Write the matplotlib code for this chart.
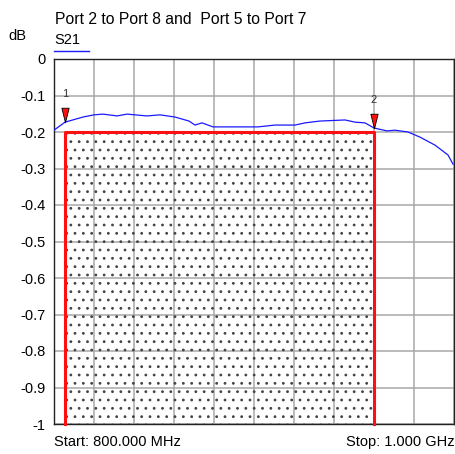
import matplotlib
matplotlib.use("Agg")
import matplotlib.pyplot as plt
import numpy as np

plt.rcParams['font.family'] = ['Liberation Sans', 'DejaVu Sans']
plt.rcParams['hatch.color'] = '#444444'
plt.rcParams['hatch.linewidth'] = 0.8

# S21 trace (MHz, dB)
freq = [800, 805.5, 814.5, 820, 824.5, 831.5, 836.5, 846.5, 853, 860.5, 867.5, 870.5,
        874, 879.5, 895.5, 902, 910.5, 920.5, 925.5, 933, 945.5, 950.5, 955.5, 960,
        966.5, 970.5, 977, 983, 990.5, 997, 999.5]
s21 = [-0.195, -0.173, -0.159, -0.153, -0.151, -0.156, -0.151, -0.156, -0.153, -0.159,
       -0.170, -0.181, -0.175, -0.186, -0.186, -0.186, -0.181, -0.181, -0.175, -0.170,
       -0.167, -0.173, -0.175, -0.189, -0.197, -0.195, -0.200, -0.214, -0.236, -0.263,
       -0.288]

# limit mask
mask_start = 805.5
mask_stop = 960
mask_level = -0.2

markers = [("1", 805.5), ("2", 960)]

yticks = [0, -0.1, -0.2, -0.3, -0.4, -0.5, -0.6, -0.7, -0.8, -0.9, -1]
ylabels = ["0", "-0.1", "-0.2", "-0.3", "-0.4", "-0.5", "-0.6", "-0.7", "-0.8", "-0.9", "-1"]

fig = plt.figure(figsize=(4.56, 4.54), dpi=100)
ax = fig.add_axes([54/456, 1 - 424/454, 400/456, 365/454])

ax.set_xlim(800, 1000)
ax.set_ylim(-1, 0)
ax.set_xticks(np.arange(800, 1001, 20))
ax.set_yticks(yticks)
ax.set_yticklabels(ylabels, fontsize=10.5)
ax.tick_params(axis='x', length=0, labelbottom=False)
ax.tick_params(axis='y', length=0, pad=6)
ax.grid(True, color='#a8a8a8', linewidth=1.1)
ax.set_axisbelow(True)
for sp in ax.spines.values():
    sp.set_color('#222222')
    sp.set_linewidth(1.0)

# hatched mask region
ax.fill_between([mask_start, mask_stop], -1, mask_level, facecolor='none',
                edgecolor='#444444', hatch='..', linewidth=0, zorder=2)
ax.plot([mask_start, mask_start, mask_stop, mask_stop], [-1, mask_level, mask_level, -1],
        color='#ff1010', linewidth=2.2, zorder=3, clip_on=False)

ax.plot(freq, s21, color='#1a1aff', linewidth=0.9, zorder=4)

# markers: tall narrow red triangles, tip on the trace
tri = [(-0.5, 1), (0.5, 1), (0, -1), (-0.5, 1)]
for lab, f in markers:
    y = np.interp(f, freq, s21)
    ax.plot(f, y + 0.019, marker=tri, markersize=10.5, markerfacecolor='#ff1010',
            markeredgecolor='black', markeredgewidth=0.6, linestyle='none', zorder=5)
    ax.text(f, y + 0.077, lab, ha='center', va='center', fontsize=8, color='#333333')

fig.text(55/456, 1 - 19/454, "Port 2 to Port 8 and  Port 5 to Port 7", fontsize=11.3,
         ha='left', va='center')
fig.text(8/456, 1 - 36/454, "dB", fontsize=10.5, ha='left', va='center')
fig.text(54/456, 1 - 40/454, "S21", fontsize=10.5, ha='left', va='center')
fig.add_artist(plt.Line2D([54/456, 89/456], [1 - 51/454, 1 - 51/454], color='#1a1aff',
                          linewidth=1.0))
fig.text(54/456, 1 - 442/454, "Start: 800.000 MHz", fontsize=10.5, ha='left', va='center')
fig.text(455/456, 1 - 442/454, "Stop: 1.000 GHz", fontsize=10.5, ha='right', va='center')

fig.savefig("out.png", dpi=100)
